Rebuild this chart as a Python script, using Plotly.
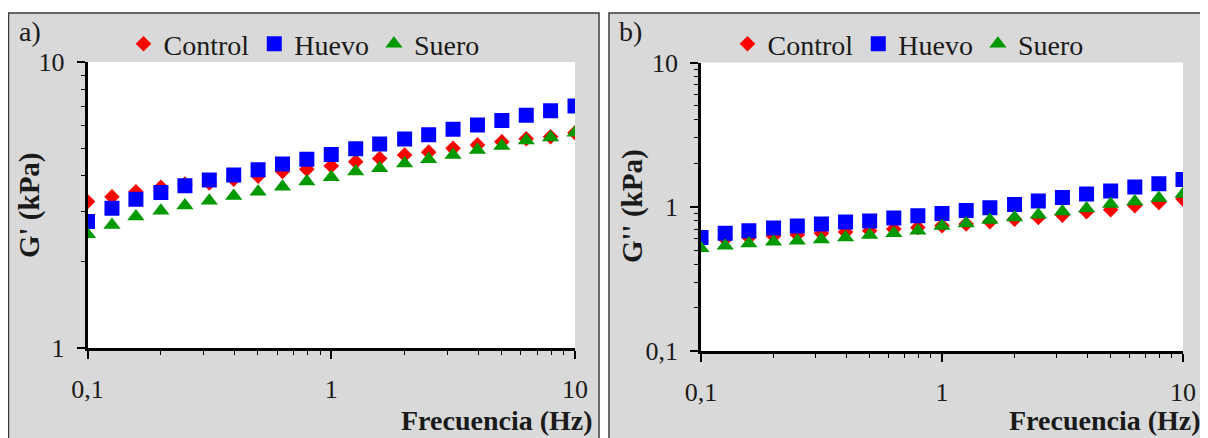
import plotly.graph_objects as go

# The page body adds an 8 px margin, so the figure is 8 px smaller than the
# window on each axis and all reference positions are offset by 8 px.
OFF = 8
W, H = 1200, 430

freq = [0.1, 0.126, 0.158, 0.2, 0.251, 0.316, 0.398, 0.501, 0.631, 0.794, 1.0,
        1.26, 1.58, 2.0, 2.51, 3.16, 3.98, 5.01, 6.31, 7.94, 10.0]

# Panel a) G' (kPa)
gp_control = [3.25, 3.38, 3.52, 3.65, 3.74, 3.78, 3.89, 3.99, 4.14, 4.22, 4.33,
              4.48, 4.60, 4.73, 4.84, 4.99, 5.13, 5.26, 5.39, 5.48, 5.66]
gp_huevo = [2.77, 3.08, 3.31, 3.50, 3.69, 3.87, 4.03, 4.20, 4.40, 4.57, 4.75,
            4.97, 5.17, 5.38, 5.57, 5.82, 6.02, 6.25, 6.51, 6.76, 7.02]
gp_suero = [2.50, 2.69, 2.88, 3.02, 3.15, 3.27, 3.40, 3.52, 3.66, 3.82, 3.95,
            4.14, 4.25, 4.42, 4.57, 4.73, 4.92, 5.08, 5.31, 5.45, 5.66]

# Panel b) G'' (kPa)
gpp_control = [0.58, 0.597, 0.612, 0.626, 0.64, 0.656, 0.667, 0.681, 0.70, 0.718, 0.738,
               0.759, 0.787, 0.82, 0.843, 0.875, 0.923, 0.953, 1.016, 1.07, 1.13]
gpp_huevo = [0.612, 0.656, 0.681, 0.711, 0.735, 0.759, 0.783, 0.796, 0.834, 0.866, 0.898,
             0.942, 0.984, 1.038, 1.094, 1.16, 1.225, 1.285, 1.37, 1.445, 1.548]
gpp_suero = [0.516, 0.536, 0.556, 0.571, 0.581, 0.593, 0.612, 0.636, 0.656, 0.681, 0.735,
             0.766, 0.808, 0.843, 0.880, 0.927, 0.973, 1.044, 1.089, 1.149, 1.225]

series_names = ["Control", "Huevo", "Suero"]
colors = ["#FF0000", "#0000FF", "#009900"]
symbols = ["diamond", "square", "triangle-up"]
sizes = [12, 15, 15]

FONT = "Liberation Serif"
FS_TICK = 26
FS_LEG = 28
FS_TITLE = 29
FS_XTITLE = 28
TXT = "#1a1a1a"

def px(x):
    return (x - OFF) / W

def py(y):
    return 1 - (y - OFF) / H

fig = go.Figure()

panel_a = [gp_control, gp_huevo, gp_suero]
panel_b = [gpp_control, gpp_huevo, gpp_suero]

for i, name in enumerate(series_names):
    fig.add_trace(go.Scatter(
        x=freq, y=panel_a[i], mode="markers", name=name,
        marker=dict(color=colors[i], symbol=symbols[i], size=sizes[i], line=dict(width=0)),
        xaxis="x", yaxis="y", legend="legend"))
for i, name in enumerate(series_names):
    fig.add_trace(go.Scatter(
        x=freq, y=panel_b[i], mode="markers", name=name,
        marker=dict(color=colors[i], symbol=symbols[i], size=sizes[i], line=dict(width=0)),
        xaxis="x2", yaxis="y2", legend="legend2"))

axis_common = dict(
    type="log", showgrid=False, zeroline=False, showline=True, automargin=False,
    linecolor="black", linewidth=2.5, ticks="outside", ticklen=8, tickwidth=1.5,
    tickcolor="black", dtick=1,
    tickfont=dict(family=FONT, size=FS_TICK, color=TXT),
    minor=dict(ticks="outside", ticklen=4, tickwidth=1.2, tickcolor="black",
               dtick="D1", showgrid=False),
    fixedrange=True,
)

leg_common = dict(orientation="h", xanchor="center", yanchor="middle",
                  bgcolor="rgba(0,0,0,0)", font=dict(family=FONT, size=FS_LEG, color=TXT),
                  itemwidth=30, itemclick=False, itemdoubleclick=False)

fig.update_layout(
    width=W, height=H, autosize=False,
    margin=dict(l=0, r=0, t=0, b=0, pad=0, autoexpand=False),
    paper_bgcolor="white", plot_bgcolor="white",
    separators=",.",
    showlegend=True,
    xaxis=dict(axis_common, domain=[px(87.5), px(575)], range=[-1, 1], anchor="y",
               ticklabelstandoff=8),
    yaxis=dict(axis_common, domain=[py(348), py(62)], range=[0, 1], anchor="x",
               ticklabelstandoff=7),
    xaxis2=dict(axis_common, domain=[px(701), px(1183)], range=[-1, 1], anchor="y2",
                ticklabelstandoff=8),
    yaxis2=dict(axis_common, domain=[py(351), py(62.5)], range=[-1, 1], anchor="x2",
                ticklabelstandoff=7),
    legend=dict(leg_common, x=px(304), y=py(44)),
    legend2=dict(leg_common, x=px(908), y=py(44)),
)

shapes = []
# panel frames (grey chart areas)
for x0, x1 in [(8.5, 599), (609, 1207)]:
    shapes.append(dict(type="rect", xref="paper", yref="paper",
                       x0=px(x0), x1=px(x1), y0=-0.05, y1=py(13),
                       fillcolor="#D9D9D9", line=dict(color="#3c3c3c", width=1.5),
                       layer="below"))
# white plot areas
for xr, yr in [("x domain", "y domain"), ("x2 domain", "y2 domain")]:
    shapes.append(dict(type="rect", xref=xr, yref=yr, x0=0, x1=1, y0=0, y1=1,
                       fillcolor="white", line=dict(width=0), layer="below"))
fig.update_layout(shapes=shapes)

annotations = [
    dict(text="a)", x=px(17), y=py(31), xanchor="left", yanchor="middle", size=FS_LEG),
    dict(text="b)", x=px(617), y=py(31), xanchor="left", yanchor="middle", size=FS_LEG),
    dict(text="<b>G' (kPa)</b>", x=px(29), y=py(205), xanchor="center", yanchor="middle",
         textangle=-90, size=FS_TITLE),
    dict(text="<b>G'' (kPa)</b>", x=px(632), y=py(206), xanchor="center", yanchor="middle",
         textangle=-90, size=FS_TITLE),
    dict(text="<b>Frecuencia (Hz)</b>", x=px(595), y=py(420), xanchor="right",
         yanchor="middle", size=FS_XTITLE),
    dict(text="<b>Frecuencia (Hz)</b>", x=px(1203), y=py(420), xanchor="right",
         yanchor="middle", size=FS_XTITLE),
]
for a in annotations:
    s = a.pop("size")
    a.update(xref="paper", yref="paper", showarrow=False,
             font=dict(family=FONT, size=s, color=TXT))
fig.update_layout(annotations=annotations)

fig.write_html("out.html")
